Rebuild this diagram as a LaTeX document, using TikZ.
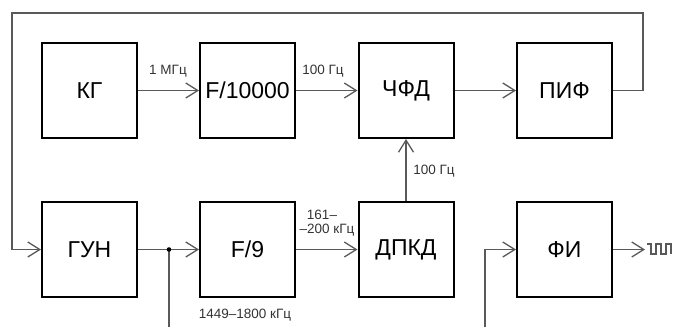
\documentclass[tikz,border=0pt]{standalone}
\usepackage{fontspec}
\setmainfont{Liberation Sans}
\usetikzlibrary{arrows.meta}
\begin{document}
\begin{tikzpicture}[x=1pt,y=-1pt,
  blk/.style={draw=black,line width=2pt,minimum width=95pt,minimum height=95pt,inner sep=0pt,font=\fontsize{23}{26}\selectfont},
  wire/.style={draw=black!65,line width=1.3pt},
  arr/.style={wire,-{Straight Barb[length=12pt,width=15pt,line width=1.3pt]}},
  lbl/.style={font=\fontsize{13.5}{15}\selectfont,text=black!80,inner sep=0pt}]
\useasboundingbox (0,0) rectangle (675,327);
\node[blk] (kg) at (89.5,90.5) {КГ};
\node[blk] (f1) at (247.5,90.5) {F/10000};
\node[blk] (chfd) at (406,90.5) {ЧФД};
\node[blk] (pif) at (564.5,90.5) {ПИФ};
\node[blk] (gun) at (89.5,249.5) {ГУН};
\node[blk] (f9) at (247.5,249.5) {F/9};
\node[blk] (dpkd) at (406,249.5) {ДПКД};
\node[blk] (fi) at (564.5,249.5) {ФИ};
\coordinate (tr) at (643,13);
\coordinate (tl) at (12,13);
\coordinate (dot) at (169,249.5);
\coordinate (dotb) at (169,327);
\coordinate (fib) at (485,327);
\coordinate (fic) at (485,249.5);
\coordinate (outp) at (645,249.5);
\draw[arr] (kg) -- (f1);
\draw[arr] (f1) -- (chfd);
\draw[arr] (chfd) -- (pif);
\draw[arr] (pif.east) -| (tr) -| (tl) |- (gun.west);
\draw[arr] (gun) -- (f9);
\draw[wire] (dot) -- (dotb);
\fill[black] (dot) circle (2.3pt);
\draw[arr] (f9) -- (dpkd);
\draw[arr] (dpkd) -- (chfd);
\draw[arr] (fib) |- (fi.west);
\draw[arr] (fi) -- (outp);
\draw[black!65,line width=1.1pt] (647,244) -- (651,244) -- (651,254) -- (656,254) -- (656,244) -- (661,244) -- (661,254) -- (666,254) -- (666,244) -- (671,244) -- (671,254);
\node[lbl] (l1) at (168,71) {1 МГц};
\node[lbl] (l2) at (323,71) {100 Гц};
\node[lbl] (l3) at (322,215) {161–};
\node[lbl] (l4) at (327,230) {–200 кГц};
\node[lbl] (l5) at (245,315) {1449–1800 кГц};
\node[lbl] (l6) at (434,171) {100 Гц};
\end{tikzpicture}
\end{document}
